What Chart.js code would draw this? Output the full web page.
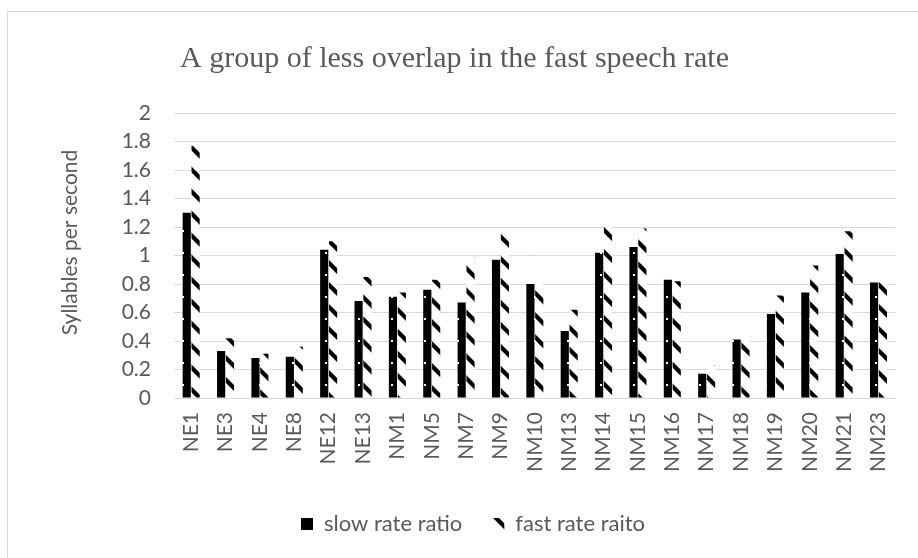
<!DOCTYPE html>
<html>
<head>
<meta charset="utf-8">
<script src="https://cdn.jsdelivr.net/npm/chart.js@4/dist/chart.umd.min.js"></script>
<style>
  html, body { margin: 0; padding: 0; background: #fff; }
  #wrap { position: relative; width: 918px; height: 558px; overflow: hidden; }
  #frame { position: absolute; left: 7px; top: 11px; width: 960px; height: 600px; border: 1px solid #d9d9d9; box-sizing: border-box; }
  #c { position: absolute; left: 0; top: 0; }
</style>
</head>
<body>
<div id="wrap">
  <div id="frame"></div>
  <canvas id="c" width="918" height="558"></canvas>
</div>
<script>
// Speakers and their syllable-rate ratios
const categories = ['NE1','NE3','NE4','NE8','NE12','NE13','NM1','NM5','NM7','NM9','NM10','NM13','NM14','NM15','NM16','NM17','NM18','NM19','NM20','NM21','NM23'];
const slowRate = [1.30, 0.33, 0.28, 0.29, 1.04, 0.68, 0.71, 0.76, 0.67, 0.97, 0.80, 0.47, 1.02, 1.06, 0.83, 0.17, 0.41, 0.59, 0.74, 1.01, 0.81];
const fastRate = [1.77, 0.42, 0.31, 0.36, 1.10, 0.85, 0.74, 0.83, 0.99, 1.18, 0.81, 0.62, 1.21, 1.19, 0.82, 0.23, 0.42, 0.72, 0.93, 1.17, 0.87];
const yTicks = [0, 0.2, 0.4, 0.6, 0.8, 1, 1.2, 1.4, 1.6, 1.8, 2];

const chartTitle = 'A group of less overlap in the fast speech rate';
const yAxisTitle = 'Syllables per second';

// Black fill with small white dots
function dotPattern() {
  const t = document.createElement('canvas');
  t.width = 11; t.height = 22;
  const g = t.getContext('2d');
  g.fillStyle = '#000';
  g.fillRect(0, 0, 11, 22);
  g.fillStyle = '#fff';
  g.fillRect(6, 10, 2, 2);
  return g.createPattern(t, 'repeat');
}

// White fill with heavy "\" diagonal stripes
function stripePattern() {
  const s = 22;
  const t = document.createElement('canvas');
  t.width = s; t.height = s;
  const g = t.getContext('2d');
  g.fillStyle = '#fff';
  g.fillRect(0, 0, s, s);
  g.strokeStyle = '#000';
  g.lineWidth = 4.3;
  for (let k = -1; k <= 1; k++) {
    g.beginPath();
    g.moveTo(k * s - 2, -2);
    g.lineTo(k * s + s + 2, s + 2);
    g.stroke();
  }
  return g.createPattern(t, 'repeat');
}

const uiFont = 'Lato, "Open Sans", sans-serif';
const grey = '#595959';

// Chart heading and vertical axis caption, placed independently of the legend
const headings = {
  id: 'headings',
  afterDraw(chart) {
    const ctx = chart.ctx;
    ctx.save();
    ctx.fillStyle = grey;
    ctx.textAlign = 'center';
    ctx.textBaseline = 'alphabetic';
    ctx.font = '30px "Liberation Serif", "Times New Roman", serif';
    ctx.fillText(chartTitle, 454.5, 67);
    ctx.translate(77, 242.5);
    ctx.rotate(-Math.PI / 2);
    ctx.font = '21px ' + uiFont;
    ctx.fillText(yAxisTitle, 0, 0);
    ctx.restore();
  }
};

new Chart(document.getElementById('c'), {
  type: 'bar',
  data: {
    labels: categories,
    datasets: [
      { label: 'slow rate ratio', data: slowRate, backgroundColor: dotPattern(), borderWidth: 0 },
      { label: 'fast rate raito', data: fastRate, backgroundColor: stripePattern(), borderWidth: 0 }
    ]
  },
  plugins: [headings],
  options: {
    responsive: false,
    animation: false,
    devicePixelRatio: 1,
    layout: { padding: { left: 41, right: 13, top: 113, bottom: 13 } },
    datasets: { bar: { categoryPercentage: 0.516, barPercentage: 0.92 } },
    plugins: {
      title: { display: false },
      legend: {
        position: 'bottom',
        labels: {
          color: grey,
          font: { family: uiFont, size: 22 },
          boxWidth: 12,
          boxHeight: 12,
          padding: 30
        }
      },
      tooltip: { enabled: false }
    },
    scales: {
      x: {
        grid: { display: false, drawTicks: false },
        border: { color: '#d9d9d9', width: 1 },
        ticks: {
          color: grey,
          font: { family: uiFont, size: 21 },
          minRotation: 90,
          maxRotation: 90,
          padding: 14,
          autoSkip: false
        },
        afterFit: s => { s.height = 85; }
      },
      y: {
        min: 0,
        max: 2,
        afterBuildTicks: s => { s.ticks = yTicks.map(v => ({ value: v })); },
        grid: { color: '#d9d9d9', lineWidth: 1, drawTicks: false },
        border: { display: false },
        ticks: {
          color: grey,
          font: { family: uiFont, size: 21 },
          padding: 23,
          callback: v => String(Number(v.toFixed(1)))
        },
        title: { display: false },
        afterFit: s => { s.width = 133; }
      }
    }
  }
});
</script>
</body>
</html>
